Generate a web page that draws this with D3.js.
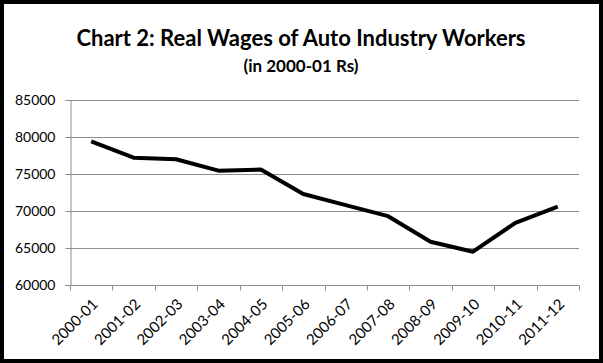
<!DOCTYPE html>
<html>
<head>
<meta charset="utf-8">
<script src="https://cdn.jsdelivr.net/npm/d3@7"></script>
<style>
  body { margin: 0; background: #fff; }
  svg text { font-family: Lato, "Open Sans", sans-serif; fill: #000; }
</style>
</head>
<body>
<svg id="chart" width="603" height="363"></svg>
<script>
// data
const years = ["2000-01","2001-02","2002-03","2003-04","2004-05","2005-06",
               "2006-07","2007-08","2008-09","2009-10","2010-11","2011-12"];
const wages = [79400, 77200, 77000, 75450, 75600, 72300,
               70800, 69300, 65850, 64500, 68400, 70600];
const yTicks = [60000, 65000, 70000, 75000, 80000, 85000];

const svg = d3.select("#chart");
const width = +svg.attr("width");
const height = +svg.attr("height");
const margin = { top: 100, right: 24, bottom: 78, left: 70 };
const innerWidth = width - margin.left - margin.right;
const innerHeight = height - margin.top - margin.bottom;

// outer black frame
svg.append("rect")
  .attr("x", 2).attr("y", 2)
  .attr("width", width - 4).attr("height", height - 4)
  .attr("fill", "#fff")
  .attr("stroke", "#000")
  .attr("stroke-width", 4);

// titles
svg.append("text")
  .attr("x", 301).attr("y", 46)
  .attr("text-anchor", "middle")
  .style("font-size", "22px")
  .style("font-weight", "bold")
  .text("Chart 2: Real Wages of Auto Industry Workers");

svg.append("text")
  .attr("x", 301).attr("y", 72)
  .attr("text-anchor", "middle")
  .style("font-size", "17px")
  .style("font-weight", "bold")
  .text("(in 2000-01 Rs)");

const g = svg.append("g")
  .attr("transform", `translate(${margin.left},${margin.top})`);

const x = d3.scaleBand().domain(years).range([0, innerWidth]);
const y = d3.scaleLinear().domain([60000, 85000]).range([innerHeight, 0]);

// gridlines
g.append("g")
  .selectAll("line")
  .data(yTicks.slice(1))
  .enter().append("line")
    .attr("x1", 0).attr("x2", innerWidth)
    .attr("y1", d => Math.round(y(d)) + 0.5)
    .attr("y2", d => Math.round(y(d)) + 0.5)
    .attr("stroke", "#8c8c8c");

// y axis
const yAxis = g.append("g")
  .attr("transform", "translate(0.5,0)")
  .call(d3.axisLeft(y).tickValues(yTicks).tickSize(5).tickPadding(10).tickFormat(d3.format("d")));
yAxis.selectAll("line, path").attr("stroke", "#8c8c8c");
yAxis.selectAll("text").style("font-size", "14px").style("font-family", "Lato, sans-serif").attr("fill", "#000");

// x axis: ticks at category boundaries, labels rotated
const xAxisG = g.append("g")
  .attr("transform", `translate(0,${Math.round(innerHeight) + 0.5})`);
xAxisG.append("line")
  .attr("x1", 0).attr("x2", innerWidth)
  .attr("stroke", "#8c8c8c");
xAxisG.selectAll(".tk")
  .data(d3.range(years.length + 1))
  .enter().append("line")
    .attr("class", "tk")
    .attr("x1", i => Math.round(i * x.step()) + 0.5)
    .attr("x2", i => Math.round(i * x.step()) + 0.5)
    .attr("y1", 0).attr("y2", 5)
    .attr("stroke", "#8c8c8c");
xAxisG.selectAll(".lbl")
  .data(years)
  .enter().append("text")
    .attr("class", "lbl")
    .attr("transform", d => `translate(${x(d) + x.bandwidth() / 2 + 4},${16}) rotate(-45)`)
    .attr("text-anchor", "end")
    .attr("dy", "0.35em")
    .style("font-size", "15px")
    .text(d => d);

// the line
const line = d3.line()
  .x((d, i) => x(years[i]) + x.bandwidth() / 2)
  .y(d => y(d));

g.append("path")
  .datum(wages)
  .attr("fill", "none")
  .attr("stroke", "#000")
  .attr("stroke-width", 4)
  .attr("stroke-linejoin", "round")
  .attr("d", line);
</script>
</body>
</html>
